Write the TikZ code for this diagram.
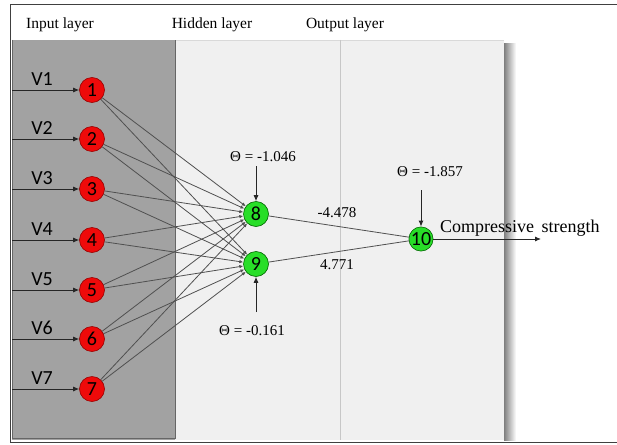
\documentclass[tikz,border=0pt]{standalone}
\usepackage{fontspec}
\setmainfont{Liberation Serif}
\newfontfamily\nodefont{Carlito}
\usetikzlibrary{arrows.meta}
\definecolor{panelgray}{RGB}{162,162,162}
\definecolor{panellight}{RGB}{240,240,240}
\definecolor{nodered}{RGB}{238,10,10}
\definecolor{nodegreen}{RGB}{40,222,40}
\definecolor{linegray}{RGB}{80,80,80}
\tikzset{
  innode/.style={circle,fill=nodered,draw=red!60!black,line width=0.6pt,minimum size=25pt,inner sep=0pt,font=\nodefont\fontsize{20}{20}\selectfont},
  hidnode/.style={circle,fill=nodegreen,draw=green!40!black,line width=0.6pt,minimum size=25pt,inner sep=0pt,font=\nodefont\fontsize{20}{20}\selectfont},
  vlab/.style={font=\nodefont\fontsize{20}{20}\selectfont,inner sep=0pt},
  conn/.style={draw=linegray,line width=0.8pt},
  inarrow/.style={draw=black!85,line width=0.9pt,-{Latex[length=6pt,width=5pt]}},
  header/.style={font=\fontsize{15.5}{15.5}\selectfont,inner sep=0pt},
  thetalab/.style={font=\fontsize{15}{15}\selectfont,inner sep=0pt},
  wlab/.style={font=\fontsize{15}{15}\selectfont,inner sep=0pt},
}
\begin{document}
\begin{tikzpicture}[x=1pt,y=-1pt]
\useasboundingbox (0,0) rectangle (617,444);
\fill[white] (0,0) rectangle (617,444);
% outer frame
\draw[black!75,line width=1pt] (617,5) -- (10,5) -- (10,442) -- (617,442);
% light panel with shadow
\shade[left color=black!50,right color=white] (504,44) rectangle (516,440);
\fill[panellight] (175,40) rectangle (504,440);
\draw[black!15,line width=0.6pt] (175,40) -- (504,40);
\draw[black!22,line width=0.9pt] (340,40) -- (340,440);
% gray panel
\fill[panelgray] (12,40) rectangle (175,440);
\draw[black!60,line width=0.8pt] (12,40) -- (12,438) -- (175,438) -- (175,40);
% headers
\node[header] (h1) at (60,25) {Input layer};
\node[header] (h2) at (212,25) {Hidden layer};
\node[header] (h3) at (345,25) {Output layer};
% input nodes
\foreach \i/\yy in {1/90,2/139,3/189,4/240,5/290,6/339,7/389}{
  \node[innode] (n\i) at (92,\yy) {\i};
  \coordinate (s\i) at (12,\yy);
  \node[vlab] (v\i) at (42,\yy-11) {V\i};
  \draw[inarrow] (s\i) -- (n\i);
}
% hidden nodes
\node[hidnode] (n8) at (256,214) {8};
\node[hidnode] (n9) at (256,264) {9};
\node[hidnode,minimum size=23pt] (n10) at (421,239) {10};
% connections
\foreach \i in {1,...,7}{
  \draw[conn,-{Latex[length=4pt,width=3.5pt]}] (n\i) -- (n8);
  \draw[conn,-{Latex[length=4pt,width=3.5pt]}] (n\i) -- (n9);
}
\draw[conn] (n8) -- (n10);
\draw[conn] (n9) -- (n10);
% weights
\node[wlab] (w1) at (337,213) {-4.478};
\node[wlab] (w2) at (337,265) {4.771};
% biases
\node[thetalab] (t8) at (263,157) {Θ = -1.046};
\node[thetalab] (t9) at (252,331) {Θ = -0.161};
\node[thetalab] (t10) at (430,172) {Θ = -1.857};
\coordinate (b8) at (256,166);
\coordinate (b9) at (256,312);
\coordinate (b10) at (421,190);
\draw[inarrow] (b8) -- (n8);
\draw[inarrow] (b9) -- (n9);
\draw[inarrow] (b10) -- (n10);
% output
\coordinate (out) at (541,239);
\draw[inarrow] (n10) -- (out);
\node[font=\fontsize{18}{18}\selectfont,inner sep=0pt,anchor=west] (cs) at (440,228) {Compressive\, strength};
\end{tikzpicture}
\end{document}
